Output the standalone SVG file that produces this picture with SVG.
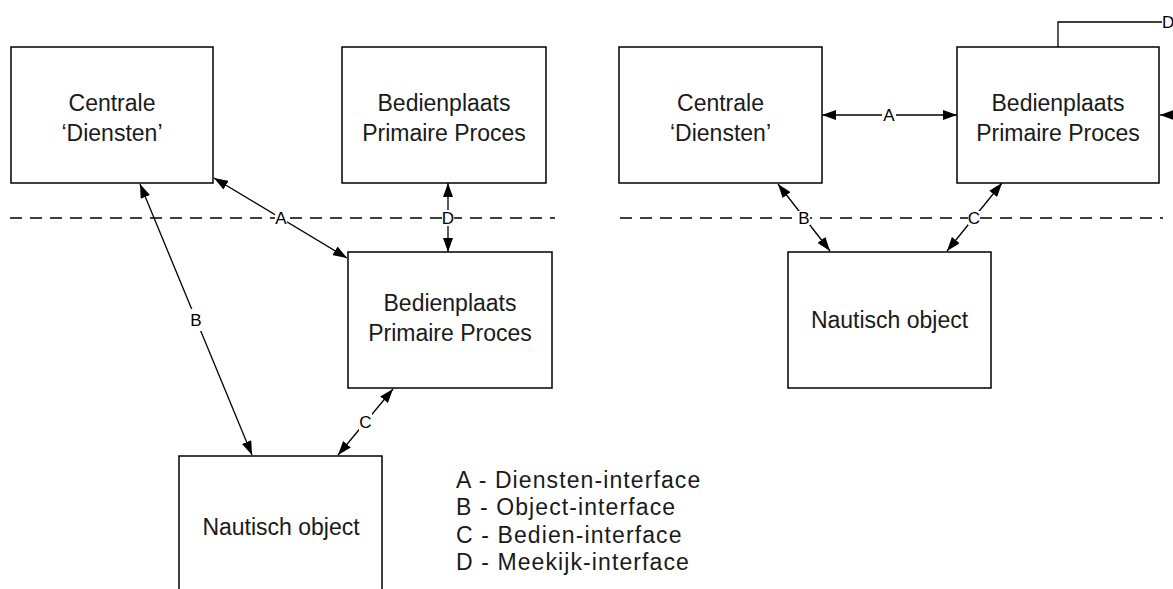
<svg xmlns="http://www.w3.org/2000/svg" width="1173" height="589" viewBox="0 0 1173 589">
  <defs>
    <marker id="arrow" viewBox="0 0 14 10" refX="14" refY="5" markerWidth="14" markerHeight="10" markerUnits="userSpaceOnUse" orient="auto-start-reverse">
      <path d="M0,0 L14,5 L0,10 Z" fill="#000"/>
    </marker>
    <style>
      .box { fill: #fff; stroke: #000; stroke-width: 1.5; }
      .txt { font-family: "Liberation Sans", Arial, sans-serif; font-size: 23px; fill: #1a1a1a; text-anchor: middle; }
      .lbl { font-family: "Liberation Sans", Arial, sans-serif; font-size: 17px; fill: #000; text-anchor: middle; dominant-baseline: central; }
      .leg { font-family: "Liberation Sans", Arial, sans-serif; font-size: 23px; letter-spacing: 1.1px; fill: #1a1a1a; }
      .link { fill: none; stroke: #000; stroke-width: 1.3; marker-start: url(#arrow); marker-end: url(#arrow); }
      .plain { fill: none; stroke: #000; stroke-width: 1.3; }
      .dash { fill: none; stroke: #000; stroke-width: 1.3; stroke-dasharray: 12 8; }
      .gap { fill: #fff; }
    </style>
  </defs>

  <!-- separators -->
  <g id="separators">
    <line class="dash" x1="10" y1="218" x2="555" y2="218"/>
    <line class="dash" x1="620" y1="218" x2="1163" y2="218"/>
  </g>

  <!-- left arrangement -->
  <g id="l-centrale">
    <rect class="box" x="11" y="47" width="202" height="136"/>
    <text class="txt" x="112" y="111">Centrale</text>
    <text class="txt" x="112" y="141">‘Diensten’</text>
  </g>
  <g id="l-bedien-top">
    <rect class="box" x="342" y="47" width="204" height="136"/>
    <text class="txt" x="444" y="111">Bedienplaats</text>
    <text class="txt" x="444" y="141">Primaire Proces</text>
  </g>
  <g id="l-bedien">
    <rect class="box" x="348" y="252" width="204" height="136"/>
    <text class="txt" x="450" y="311">Bedienplaats</text>
    <text class="txt" x="450" y="341">Primaire Proces</text>
  </g>
  <g id="l-nautisch">
    <rect class="box" x="179" y="456" width="203" height="150"/>
    <text class="txt" x="281" y="535">Nautisch object</text>
  </g>

  <!-- right arrangement -->
  <g id="r-centrale">
    <rect class="box" x="619" y="47" width="203" height="136"/>
    <text class="txt" x="720.5" y="111">Centrale</text>
    <text class="txt" x="720.5" y="141">‘Diensten’</text>
  </g>
  <g id="r-bedien">
    <rect class="box" x="957" y="47" width="202" height="136"/>
    <text class="txt" x="1058" y="111">Bedienplaats</text>
    <text class="txt" x="1058" y="141">Primaire Proces</text>
  </g>
  <g id="r-nautisch">
    <rect class="box" x="788" y="252" width="203" height="136"/>
    <text class="txt" x="889.5" y="328">Nautisch object</text>
  </g>

  <!-- connectors -->
  <g id="connectors">
    <line class="link" x1="214" y1="178" x2="347" y2="258"/>
    <rect class="gap" x="275" y="210" width="12" height="16"/>
    <text class="lbl" x="281" y="218">A</text>

    <line class="link" x1="448" y1="183" x2="448" y2="252"/>
    <rect class="gap" x="442" y="210" width="12" height="16"/>
    <text class="lbl" x="448" y="218">D</text>

    <line class="link" x1="140" y1="184" x2="252" y2="455"/>
    <rect class="gap" x="189" y="309" width="14" height="22"/>
    <text class="lbl" x="196" y="320">B</text>

    <line class="link" x1="393" y1="389" x2="338" y2="455"/>
    <rect class="gap" x="359" y="412" width="13" height="20"/>
    <text class="lbl" x="365.5" y="422">C</text>

    <line class="link" x1="822" y1="115" x2="957" y2="115"/>
    <rect class="gap" x="882" y="107" width="14" height="16"/>
    <text class="lbl" x="889" y="115">A</text>

    <line class="link" x1="778" y1="184" x2="830" y2="251"/>
    <rect class="gap" x="798" y="211" width="12" height="14"/>
    <text class="lbl" x="804" y="218">B</text>

    <line class="link" x1="1002" y1="183" x2="947" y2="251"/>
    <rect class="gap" x="968" y="211" width="12" height="14"/>
    <text class="lbl" x="974" y="218">C</text>

    <polyline class="plain" points="1058,47 1058,22 1162,22"/>
    <text class="lbl" x="1162" y="22" style="text-anchor:start">D</text>

    <line class="plain" x1="1175" y1="115" x2="1160" y2="115" marker-end="url(#arrow)"/>
  </g>

  <!-- legend -->
  <g id="legend">
    <text class="leg" x="456" y="488">A - Diensten-interface</text>
    <text class="leg" x="456" y="515">B - Object-interface</text>
    <text class="leg" x="456" y="543">C - Bedien-interface</text>
    <text class="leg" x="456" y="570">D - Meekijk-interface</text>
  </g>
</svg>
